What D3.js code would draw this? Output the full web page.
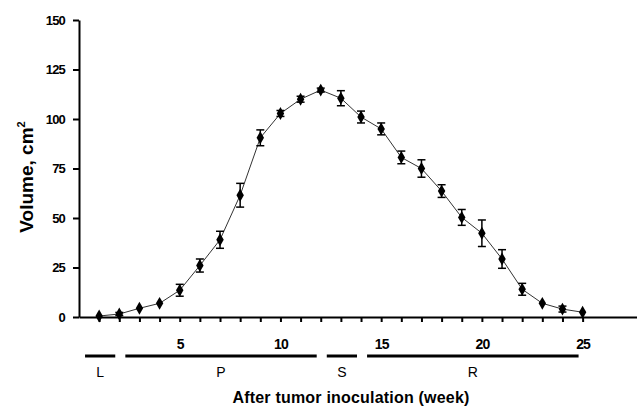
<!DOCTYPE html>
<html>
<head>
<meta charset="utf-8">
<script src="https://cdn.jsdelivr.net/npm/d3@7"></script>
<style>
  body { margin: 0; background: #fff; }
  svg { display: block; }
  .tick text { font-family: "Liberation Sans", Arial, sans-serif; font-weight: bold; }
</style>
</head>
<body>
<svg id="chart" width="637" height="406"></svg>
<script>
// weeks after inoculation, mean volume, error (+/-)
const weeks = [1, 2, 3, 4, 5, 6, 7, 8, 9, 10, 11, 12, 13, 14, 15, 16, 17, 18, 19, 20, 21, 22, 23, 24, 25]
const volume = [0.5, 1.5, 4.4, 6.9, 13.5, 26, 39, 61.5, 90.5, 102.8, 110, 114.6, 110.5, 101, 95, 80.6, 75, 63.6, 50.3, 42.3, 29.3, 14, 6.9, 4, 2.4]
const err = [0, 0.8, 0, 0, 3, 3.3, 4.3, 6, 4, 1.5, 1.5, 1, 3.8, 3, 3, 3.2, 4.4, 3.2, 4, 6.7, 4.7, 3, 0, 1.5, 0]
const yTicks = [0, 25, 50, 75, 100, 125, 150]
const xLabels = [5, 10, 15, 20, 25]
// growth phases along the time axis
const phaseNames = ['L', 'P', 'S', 'R']
const phaseStart = [0.3, 2.3, 12.3, 14.3]
const phaseEnd = [1.8, 11.8, 13.8, 24.8]

const svg = d3.select('#chart')

const x = d3.scaleLinear().domain([0, 27.7]).range([79, 637])
const y = d3.scaleLinear().domain([0, 150]).range([317, 20])

const data = weeks.map((w, i) => ({ w: w, v: volume[i], e: err[i] }))

// y axis
const yAxis = svg.append('g')
  .attr('transform', 'translate(' + x(0) + ',0)')
  .call(d3.axisLeft(y).tickValues(yTicks).tickSize(6).tickSizeOuter(0).tickPadding(8))
yAxis.select('.domain').attr('stroke-width', 2)
yAxis.selectAll('.tick line').attr('stroke-width', 2)
yAxis.selectAll('.tick text').attr('font-size', 13).attr('letter-spacing', -0.8)

// x axis
const xAxis = svg.append('g')
  .attr('transform', 'translate(0,' + y(0) + ')')
  .call(d3.axisBottom(x).tickValues(weeks).tickSize(5).tickSizeOuter(0).tickPadding(17)
    .tickFormat(d => xLabels.includes(d) ? d : ''))
xAxis.select('.domain').attr('stroke-width', 2)
xAxis.selectAll('.tick line').attr('stroke-width', 2)
xAxis.selectAll('.tick text').attr('font-size', 14).attr('letter-spacing', -0.8)

// connecting line
svg.append('path')
  .datum(data)
  .attr('fill', 'none')
  .attr('stroke', '#333')
  .attr('stroke-width', 1)
  .attr('d', d3.line().x(d => x(d.w)).y(d => y(d.v)))

// error bars
const eb = svg.append('g').attr('stroke', '#000').attr('stroke-width', 1.5)
  .selectAll('g')
  .data(data.filter(d => d.e > 0))
  .join('g')
eb.append('line')
  .attr('x1', d => x(d.w)).attr('x2', d => x(d.w))
  .attr('y1', d => y(d.v + d.e)).attr('y2', d => y(d.v - d.e))
eb.append('line')
  .attr('x1', d => x(d.w) - 4).attr('x2', d => x(d.w) + 4)
  .attr('y1', d => y(d.v + d.e)).attr('y2', d => y(d.v + d.e))
eb.append('line')
  .attr('x1', d => x(d.w) - 4).attr('x2', d => x(d.w) + 4)
  .attr('y1', d => y(d.v - d.e)).attr('y2', d => y(d.v - d.e))

// markers
svg.append('g')
  .selectAll('path')
  .data(data)
  .join('path')
  .attr('transform', d => 'translate(' + x(d.w) + ',' + y(d.v) + ')')
  .attr('d', d3.symbol(d3.symbolDiamond, 48))
  .attr('fill', '#000')

// phase bars
const phases = phaseNames.map((n, i) => ({ n: n, a: phaseStart[i], b: phaseEnd[i] }))
svg.append('g')
  .selectAll('line')
  .data(phases)
  .join('line')
  .attr('x1', d => x(d.a)).attr('x2', d => x(d.b))
  .attr('y1', 356).attr('y2', 356)
  .attr('stroke', '#000').attr('stroke-width', 3)
svg.append('g')
  .selectAll('text')
  .data(phases)
  .join('text')
  .attr('x', d => x((d.a + d.b) / 2))
  .attr('y', 377)
  .attr('text-anchor', 'middle')
  .attr('font-family', '"Liberation Sans", Arial, sans-serif')
  .attr('font-size', 14)
  .text(d => d.n)

// axis titles
svg.append('text')
  .attr('x', 351).attr('y', 403)
  .attr('text-anchor', 'middle')
  .attr('font-family', '"Liberation Sans", Arial, sans-serif')
  .attr('font-weight', 'bold')
  .attr('font-size', 16)
  .attr('letter-spacing', 0.2)
  .text('After tumor inoculation (week)')

const yt = svg.append('text')
  .attr('transform', 'translate(33,177) rotate(-90)')
  .attr('text-anchor', 'middle')
  .attr('font-family', '"Liberation Sans", Arial, sans-serif')
  .attr('font-weight', 'bold')
  .attr('font-size', 19)
yt.append('tspan').text('Volume, cm')
yt.append('tspan').attr('font-size', 11).attr('dy', -8).text('2')
</script>
</body>
</html>
